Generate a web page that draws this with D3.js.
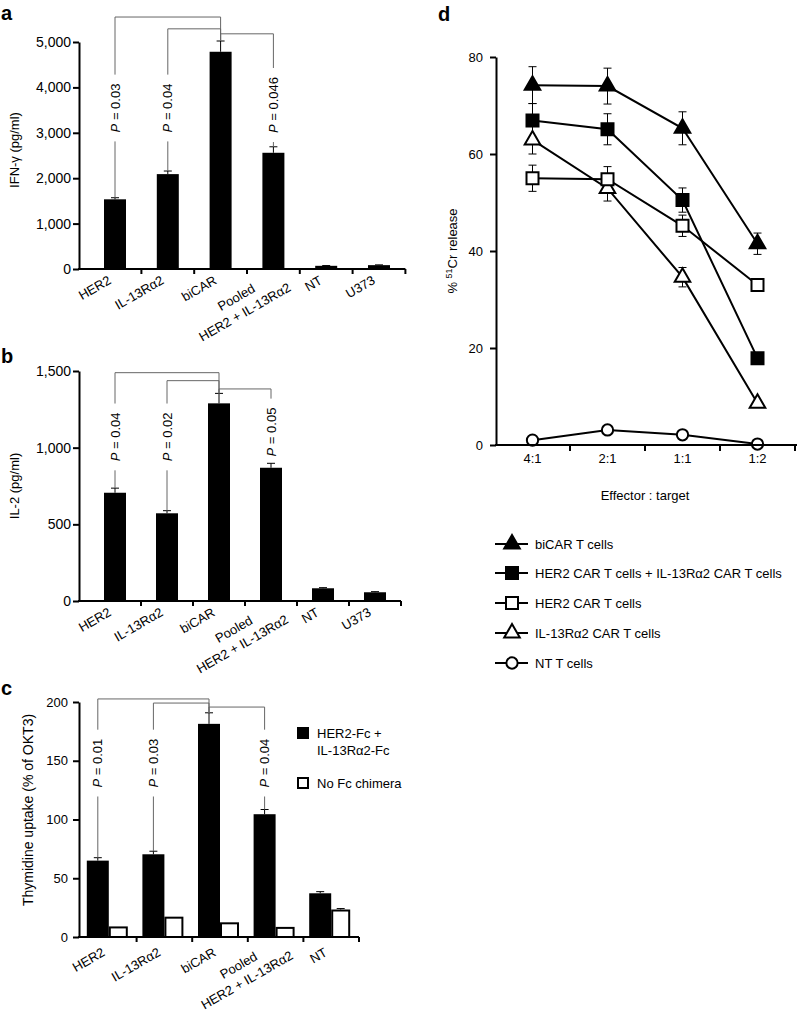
<!DOCTYPE html>
<html><head><meta charset="utf-8">
<script src="https://cdn.jsdelivr.net/npm/d3@7"></script>
<style>
body{margin:0;background:#fff}
svg{display:block}
text{font-family:"Liberation Sans",Arial,Helvetica,sans-serif;fill:#000}
</style>
</head><body>
<svg id="chart" width="798" height="1014"></svg>
<script>
// ---------------- data ----------------
// panel a: IFN-gamma
const catsAB = ["HER2", "IL-13Rα2", "biCAR", "Pooled\nHER2 + IL-13Rα2", "NT", "U373"];
const ifnValues = [1535, 2090, 4785, 2560, 70, 85];
const ifnErrors = [35, 68, 237, 132, 6, 6];
const ifnTicks = [0, 1000, 2000, 3000, 4000, 5000];
const ifnBrFrom = ["HER2", "IL-13Rα2", "Pooled\nHER2 + IL-13Rα2"];
const ifnBrP = ["0.03", "0.04", "0.046"];
const ifnBrLevel = [5550, 5290, 5180];
const ifnBrLabelAt = [3546, 3546, 3612];

// panel b: IL-2
const il2Values = [706, 572, 1289, 869, 83, 57];
const il2Errors = [30, 17, 65, 29, 4, 4];
const il2Ticks = [0, 500, 1000, 1500];
const il2BrFrom = ["HER2", "IL-13Rα2", "Pooled\nHER2 + IL-13Rα2"];
const il2BrP = ["0.04", "0.02", "0.05"];
const il2BrLevel = [1489, 1437, 1383];
const il2BrLabelAt = [1070, 1070, 1102];

// panel c: thymidine uptake
const catsC = ["HER2", "IL-13Rα2", "biCAR", "Pooled\nHER2 + IL-13Rα2", "NT"];
const thyFc = [65.0, 70.4, 181.4, 104.5, 37.2];
const thyFcErr = [2.5, 2.6, 9.4, 4.0, 1.4];
const thyNoFc = [9.0, 17.3, 12.5, 8.6, 23.4];
const thyNoFcErr = [0, 0, 0, 0, 0.8];
const thyTicks = [0, 50, 100, 150, 200];
const thyBrFrom = ["HER2", "IL-13Rα2", "Pooled\nHER2 + IL-13Rα2"];
const thyBrP = ["0.01", "0.03", "0.04"];
const thyBrLevel = [202.6, 199.1, 195.7];
const thyBrLabelAt = [148, 148, 148];
const thyLegend = [["HER2-Fc +", "IL-13Rα2-Fc"], ["No Fc chimera"]];

// panel d: cytotoxicity
const ratios = ["4:1", "2:1", "1:1", "1:2"];
const crTicks = [0, 20, 40, 60, 80];
const biCARrel = [74.2, 74.0, 65.3, 41.5];
const biCARerr = [3.8, 3.7, 3.4, 2.2];
const pooledRel = [66.9, 65.1, 50.5, 17.9];
const pooledErr = [3.5, 3.2, 2.5, 0.6];
const her2Rel = [55.0, 54.8, 45.2, 33.0];
const her2Err = [2.7, 2.6, 2.2, 0.6];
const il13Rel = [62.9, 52.9, 34.6, 8.6];
const il13Err = [2.9, 2.6, 2.0, 0.6];
const ntRel = [1.0, 3.1, 2.1, 0.2];
const ntErr = [0, 0, 0, 0];
const seriesNames = ["biCAR T cells", "HER2 CAR T cells + IL-13Rα2 CAR T cells", "HER2 CAR T cells", "IL-13Rα2 CAR T cells", "NT T cells"];

// ---------------- drawing ----------------
const svg = d3.select("#chart");
const FONT = '"Liberation Sans",Arial,Helvetica,sans-serif';

function panelLetter(t, x, y) {
  svg.append("text").attr("x", x).attr("y", y).attr("font-size", 20).attr("font-weight", "bold").text(t);
}

function yTitle(x, y, size) {
  return svg.append("text").attr("transform", `translate(${x},${y}) rotate(-90)`)
    .attr("text-anchor", "middle").attr("font-size", size);
}

function barPanel(o) {
  const g = svg.append("g");
  const x = d3.scaleBand().domain(o.cats).range(o.xRange);
  const y = d3.scaleLinear().domain([0, o.yMax]).range([o.y0, o.yTop]);
  const cx = c => x(c) + x.bandwidth() / 2;

  // bars + error bars
  o.series.forEach(s => {
    o.cats.forEach((c, i) => {
      const v = s.values[i], e = s.errors[i];
      const left = cx(c) + s.off;
      const mid = left + s.width / 2;
      if (e > 0) {
        g.append("line").attr("x1", mid).attr("x2", mid).attr("y1", y(v)).attr("y2", y(v + e))
          .attr("stroke", "#000").attr("stroke-width", 1);
        g.append("line").attr("x1", mid - 4).attr("x2", mid + 4).attr("y1", y(v + e)).attr("y2", y(v + e))
          .attr("stroke", "#000").attr("stroke-width", 1);
      }
      if (s.fill === "#000") {
        g.append("rect").attr("x", left).attr("width", s.width).attr("y", y(v)).attr("height", o.y0 - y(v)).attr("fill", "#000");
      } else {
        g.append("rect").attr("x", left + 1).attr("width", s.width - 2).attr("y", y(v) + 1).attr("height", Math.max(0, o.y0 - y(v) - 1))
          .attr("fill", "#fff").attr("stroke", "#000").attr("stroke-width", 2);
      }
    });
  });

  // brackets
  const main = o.series[0];
  const markX = c => cx(c) + main.off + main.width / 2;
  const iRef = o.cats.indexOf(o.ref);
  const topRef = y(main.values[iRef] + main.errors[iRef]);
  o.brFrom.forEach((c, k) => {
    const i = o.cats.indexOf(c);
    const xa = markX(c), xb = markX(o.ref);
    const ly = y(o.brLevel[k]);
    const topA = y(main.values[i] + main.errors[i]);
    const ty = y(o.brLabelAt[k]);
    const t = g.append("text").attr("transform", `translate(${xa},${ty}) rotate(-90)`)
      .attr("text-anchor", "middle").attr("dy", "0.35em").attr("font-size", 13);
    t.append("tspan").attr("font-style", "italic").text("P");
    t.append("tspan").text(" = " + o.brP[k]);
    const half = t.node().getComputedTextLength() / 2 + 9;
    let d = `M${xb},${topRef}V${ly}H${xa}V${ty - half}`;
    if (ty + half < topA) d += `M${xa},${ty + half}V${topA}`;
    g.append("path").attr("d", d).attr("fill", "none").attr("stroke", "#666").attr("stroke-width", 1);
  });

  // y axis
  g.append("g").attr("transform", `translate(${o.axisX},0)`)
    .call(d3.axisLeft(y).tickValues(o.ticks).tickFormat(o.fmt).tickSize(6).tickSizeOuter(0).tickPadding(o.tickPad))
    .call(a => a.attr("font-size", o.tickFont).attr("font-family", FONT))
    .call(a => a.selectAll("path,line").attr("stroke", "#000").attr("stroke-width", 2))
    .call(a => a.selectAll("text").attr("fill", "#000"));

  // x axis
  const xEnd = o.xRange[1];
  g.append("line").attr("x1", o.axisX - 1).attr("x2", xEnd).attr("y1", o.y0).attr("y2", o.y0)
    .attr("stroke", "#000").attr("stroke-width", 2);
  o.cats.forEach((c, i) => {
    const bx = x(c) + x.step();
    g.append("line").attr("x1", bx).attr("x2", bx).attr("y1", o.y0).attr("y2", o.y0 + 5)
      .attr("stroke", "#000").attr("stroke-width", 2);
  });

  // x labels
  o.cats.forEach(c => {
    const lines = c.split("\n");
    if (lines.length === 1) {
      g.append("text").attr("transform", `translate(${cx(c) + o.lblDx},${o.y0 + o.lblDy}) rotate(-30)`)
        .attr("text-anchor", "end").attr("font-size", 13).text(c);
    } else {
      const t = g.append("text").attr("transform", `translate(${cx(c) - 33},${o.y0 + 35.5}) rotate(-30)`)
        .attr("text-anchor", "middle").attr("font-size", 13);
      t.append("tspan").attr("x", 0).attr("y", -3.8).text(lines[0]);
      t.append("tspan").attr("x", 0).attr("y", 13.2).text(lines[1]);
    }
  });
  return { x, y };
}

// panel a
panelLetter("a", 1, 20);
barPanel({
  cats: catsAB, xRange: [88.6, 405.4], y0: 269, yTop: 42, yMax: 5000, axisX: 79,
  ticks: ifnTicks, fmt: d3.format(","), tickPad: 2, tickFont: 14,
  series: [{ values: ifnValues, errors: ifnErrors, fill: "#000", off: -11, width: 22 }],
  ref: "biCAR", brFrom: ifnBrFrom, brP: ifnBrP, brLevel: ifnBrLevel, brLabelAt: ifnBrLabelAt,
  lblDx: -3, lblDy: 14
});
yTitle(19, 150, 13).text("IFN-γ (pg/ml)");

// panel b
panelLetter("b", 1, 363);
barPanel({
  cats: catsAB, xRange: [89, 401], y0: 601, yTop: 371, yMax: 1500, axisX: 79,
  ticks: il2Ticks, fmt: d3.format(","), tickPad: 2, tickFont: 14,
  series: [{ values: il2Values, errors: il2Errors, fill: "#000", off: -11, width: 22 }],
  ref: "biCAR", brFrom: il2BrFrom, brP: il2BrP, brLevel: il2BrLevel, brLabelAt: il2BrLabelAt,
  lblDx: -3, lblDy: 14
});
yTitle(19, 486, 13).text("IL-2 (pg/ml)");

// panel c
panelLetter("c", 1, 695);
barPanel({
  cats: catsC, xRange: [81, 359], y0: 937, yTop: 702, yMax: 200, axisX: 79,
  ticks: thyTicks, fmt: d3.format("d"), tickPad: 5, tickFont: 13,
  series: [
    { values: thyFc, errors: thyFcErr, fill: "#000", off: -22, width: 22 },
    { values: thyNoFc, errors: thyNoFcErr, fill: "#fff", off: 0, width: 19 }
  ],
  ref: "biCAR", brFrom: thyBrFrom, brP: thyBrP, brLevel: thyBrLevel, brLabelAt: thyBrLabelAt,
  lblDx: -3, lblDy: 18
});
yTitle(33, 810, 14).text("Thymidine uptake (% of OKT3)");

// legend c
const legC = svg.append("g");
[["#000", 727], ["#fff", 777]].forEach(([f, yy], k) => {
  if (f === "#000") legC.append("rect").attr("x", 297).attr("y", yy).attr("width", 12).attr("height", 12).attr("fill", "#000");
  else legC.append("rect").attr("x", 298).attr("y", yy + 1).attr("width", 10).attr("height", 10).attr("fill", "#fff").attr("stroke", "#000").attr("stroke-width", 2);
  thyLegend[k].forEach((line, j) => {
    legC.append("text").attr("x", 317).attr("y", yy + 11 + j * 17).attr("font-size", 13).text(line);
  });
});

// panel d
panelLetter("d", 438, 21);
const gd = svg.append("g");
const xd = d3.scaleBand().domain(ratios).range([495, 795]);
const yd = d3.scaleLinear().domain([0, 80]).range([445, 57]);
const cxd = r => xd(r) + xd.bandwidth() / 2;

const sym = {
  triangle: d3.symbol().type(d3.symbolTriangle).size(105),
  square: d3.symbol().type(d3.symbolSquare).size(144),
  circle: d3.symbol().type(d3.symbolCircle).size(100)
};
const dSeries = [
  { vals: ntRel, errs: ntErr, shape: "circle", fill: "#fff" },
  { vals: il13Rel, errs: il13Err, shape: "triangle", fill: "#fff" },
  { vals: her2Rel, errs: her2Err, shape: "square", fill: "#fff" },
  { vals: pooledRel, errs: pooledErr, shape: "square", fill: "#000" },
  { vals: biCARrel, errs: biCARerr, shape: "triangle", fill: "#000" }
];
const legendOrder = [4, 3, 2, 1, 0];

const lineGen = d3.line().x((v, i) => cxd(ratios[i])).y(v => yd(v));
dSeries.forEach(s => {
  gd.append("path").attr("d", lineGen(s.vals)).attr("fill", "none").attr("stroke", "#000").attr("stroke-width", 2);
});
dSeries.forEach(s => {
  s.vals.forEach((v, i) => {
    const e = s.errs[i];
    if (e <= 0) return;
    const xx = cxd(ratios[i]);
    gd.append("path").attr("d", `M${xx},${yd(v - e)}V${yd(v + e)}M${xx - 4},${yd(v + e)}H${xx + 4}M${xx - 4},${yd(v - e)}H${xx + 4}`)
      .attr("fill", "none").attr("stroke", "#000").attr("stroke-width", 1);
  });
});
dSeries.forEach(s => {
  s.vals.forEach((v, i) => {
    gd.append("path").attr("d", sym[s.shape]()).attr("transform", `translate(${cxd(ratios[i])},${yd(v)})`)
      .attr("fill", s.fill).attr("stroke", "#000").attr("stroke-width", 2);
  });
});

// d axes
gd.append("g").attr("transform", "translate(496,0)")
  .call(d3.axisLeft(yd).tickValues(crTicks).tickSize(6).tickSizeOuter(0).tickPadding(7))
  .call(a => a.attr("font-size", 13).attr("font-family", FONT))
  .call(a => a.selectAll("path,line").attr("stroke", "#000").attr("stroke-width", 2))
  .call(a => a.selectAll("text").attr("fill", "#000"));
gd.append("line").attr("x1", 495).attr("x2", 797).attr("y1", 445).attr("y2", 445).attr("stroke", "#000").attr("stroke-width", 2);
ratios.forEach(r => {
  const bx = xd(r) + xd.step();
  gd.append("line").attr("x1", Math.min(bx, 796)).attr("x2", Math.min(bx, 796)).attr("y1", 445).attr("y2", 451).attr("stroke", "#000").attr("stroke-width", 2);
  gd.append("text").attr("x", cxd(r)).attr("y", 463).attr("text-anchor", "middle").attr("font-size", 13).text(r);
});
gd.append("text").attr("x", 645).attr("y", 500).attr("text-anchor", "middle").attr("font-size", 13).text("Effector : target");
const yt = yTitle(457, 251, 13);
yt.append("tspan").text("% ");
yt.append("tspan").attr("font-size", 9).attr("dy", -5).text("51");
yt.append("tspan").attr("dy", 5).text("Cr release");

// d legend
const rowY = [544, 573, 603, 633, 663];
legendOrder.forEach((si, k) => {
  const s = dSeries[si];
  const yy = rowY[k];
  gd.append("line").attr("x1", 495).attr("x2", 528).attr("y1", yy).attr("y2", yy).attr("stroke", "#000").attr("stroke-width", 2);
  gd.append("path").attr("d", sym[s.shape]()).attr("transform", `translate(512,${yy})`)
    .attr("fill", s.fill).attr("stroke", "#000").attr("stroke-width", 2);
  gd.append("text").attr("x", 535).attr("y", yy + 5).attr("font-size", 13).text(seriesNames[k]);
});
</script>
</body></html>
